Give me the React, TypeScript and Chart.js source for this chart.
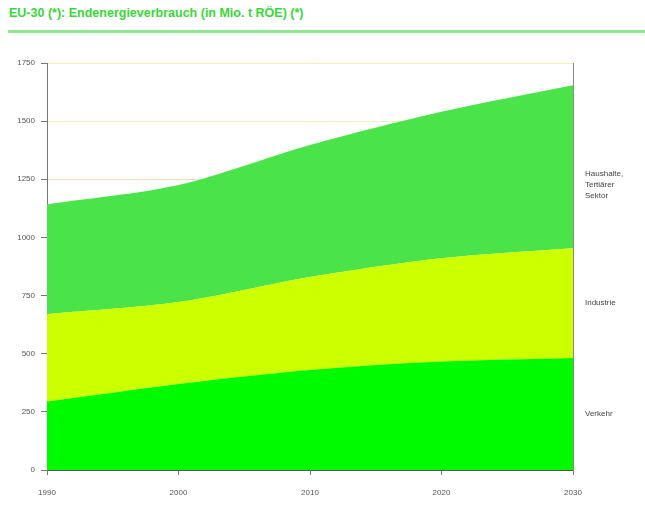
import React, { useEffect, useRef } from "react";
import { Chart, registerables } from "chart.js";

Chart.register(...registerables);

const categories = ["1990", "2000", "2010", "2020", "2030"];
const verkehr = [294, 370, 430, 466, 482];
const industrie = [376, 352, 400, 445, 472];
const haushalte = [472, 503, 567, 629, 700];
const seriesLabels = [["Verkehr"], ["Industrie"], ["Haushalte,", "Tertiärer", "Sektor"]];
const yTicks = [0, 250, 500, 750, 1000, 1250, 1500, 1750];
const title = "EU-30 (*): Endenergieverbrauch (in Mio. t RÖE) (*)";

const rightLabels = {
  id: "rightLabels",
  afterDatasetsDraw(chart: any) {
    const { ctx, chartArea } = chart;
    ctx.save();
    ctx.font = "8px 'Liberation Sans', sans-serif";
    ctx.fillStyle = "#444";
    ctx.textBaseline = "middle";
    ctx.textAlign = "left";
    let prevY = chartArea.bottom;
    chart.data.datasets.forEach((ds: any, i: number) => {
      const meta = chart.getDatasetMeta(i);
      const pt = meta.data[meta.data.length - 1];
      const mid = (pt.y + prevY) / 2;
      const lines = seriesLabels[i];
      const lh = 11;
      const shift = lines.length > 1 ? 18 : 0;
      const start = mid + shift - ((lines.length - 1) * lh) / 2;
      lines.forEach((l, j) => ctx.fillText(l, chartArea.right + 12, start + j * lh));
      prevY = pt.y;
    });
    ctx.restore();
  },
};

export default function App() {
  const ref = useRef<HTMLCanvasElement>(null);
  useEffect(() => {
    document.body.style.margin = "0";
    const chart = new Chart(ref.current!, {
      type: "line",
      data: {
        labels: categories,
        datasets: [
          { label: "Verkehr", data: verkehr, backgroundColor: "#00fa00", borderWidth: 0, fill: "origin", pointRadius: 0, tension: 0.3 },
          { label: "Industrie", data: industrie, backgroundColor: "#ccff00", borderWidth: 0, fill: "-1", pointRadius: 0, tension: 0.3 },
          { label: "Haushalte, Tertiärer Sektor", data: haushalte, backgroundColor: "#4ae44a", borderWidth: 0, fill: "-1", pointRadius: 0, tension: 0.3 },
        ],
      },
      options: {
        animation: false,
        responsive: true,
        maintainAspectRatio: false,
        layout: { padding: { left: 0, top: 63, right: 72, bottom: 0 } },
        plugins: { legend: { display: false }, tooltip: { enabled: false }, title: { display: false } },
        font: { family: "'Liberation Sans', sans-serif", size: 8 },
        color: "#555",
        scales: {
          x: {
            offset: false,
            grid: { drawOnChartArea: false, drawTicks: true, tickLength: 5, tickColor: "#777" },
            border: { color: "#555", width: 1 },
            ticks: { padding: 13, color: "#555", font: { size: 8, family: "'Liberation Sans', sans-serif" }, maxRotation: 0 },
            afterFit: (s: any) => { s.height = 36; },
          },
          y: {
            stacked: true,
            min: 0,
            max: 1750,
            afterBuildTicks: (s: any) => { s.ticks = yTicks.map((v) => ({ value: v })); },
            grid: {
              color: (c: any) => (c.tick && c.tick.value === 1250 ? "#f9d8c0" : "#f0f0b8"),
              tickLength: 6,
              tickColor: "#777",
            },
            border: { color: "#777", width: 1 },
            ticks: {
              padding: 6,
              color: "#555",
              font: { size: 8, family: "'Liberation Sans', sans-serif" },
              callback: (v: any) => String(v),
            },
            afterFit: (s: any) => { s.width = 47; },
          },
          y2: {
            position: "right",
            display: true,
            grid: { display: false },
            ticks: { display: false },
            border: { color: "#888", width: 1 },
            afterFit: (s: any) => { s.width = 0; },
          },
        },
      },
      plugins: [rightLabels],
    });
    return () => chart.destroy();
  }, []);

  return (
    <div style={{ position: "absolute", left: 0, top: 0, width: 645, height: 506, background: "#fff" }}>
      <div
        style={{
          position: "absolute",
          left: 9,
          top: 6,
          fontFamily: "'Liberation Sans', sans-serif",
          fontWeight: "bold",
          fontSize: 12.5,
          color: "#38d838",
          whiteSpace: "nowrap",
        }}
      >
        {title}
      </div>
      <div style={{ position: "absolute", left: 8, top: 30, width: 637, height: 3, background: "#8fe88f" }} />
      <canvas ref={ref} style={{ position: "absolute", left: 0, top: 0, width: 645, height: 506 }} />
    </div>
  );
}
